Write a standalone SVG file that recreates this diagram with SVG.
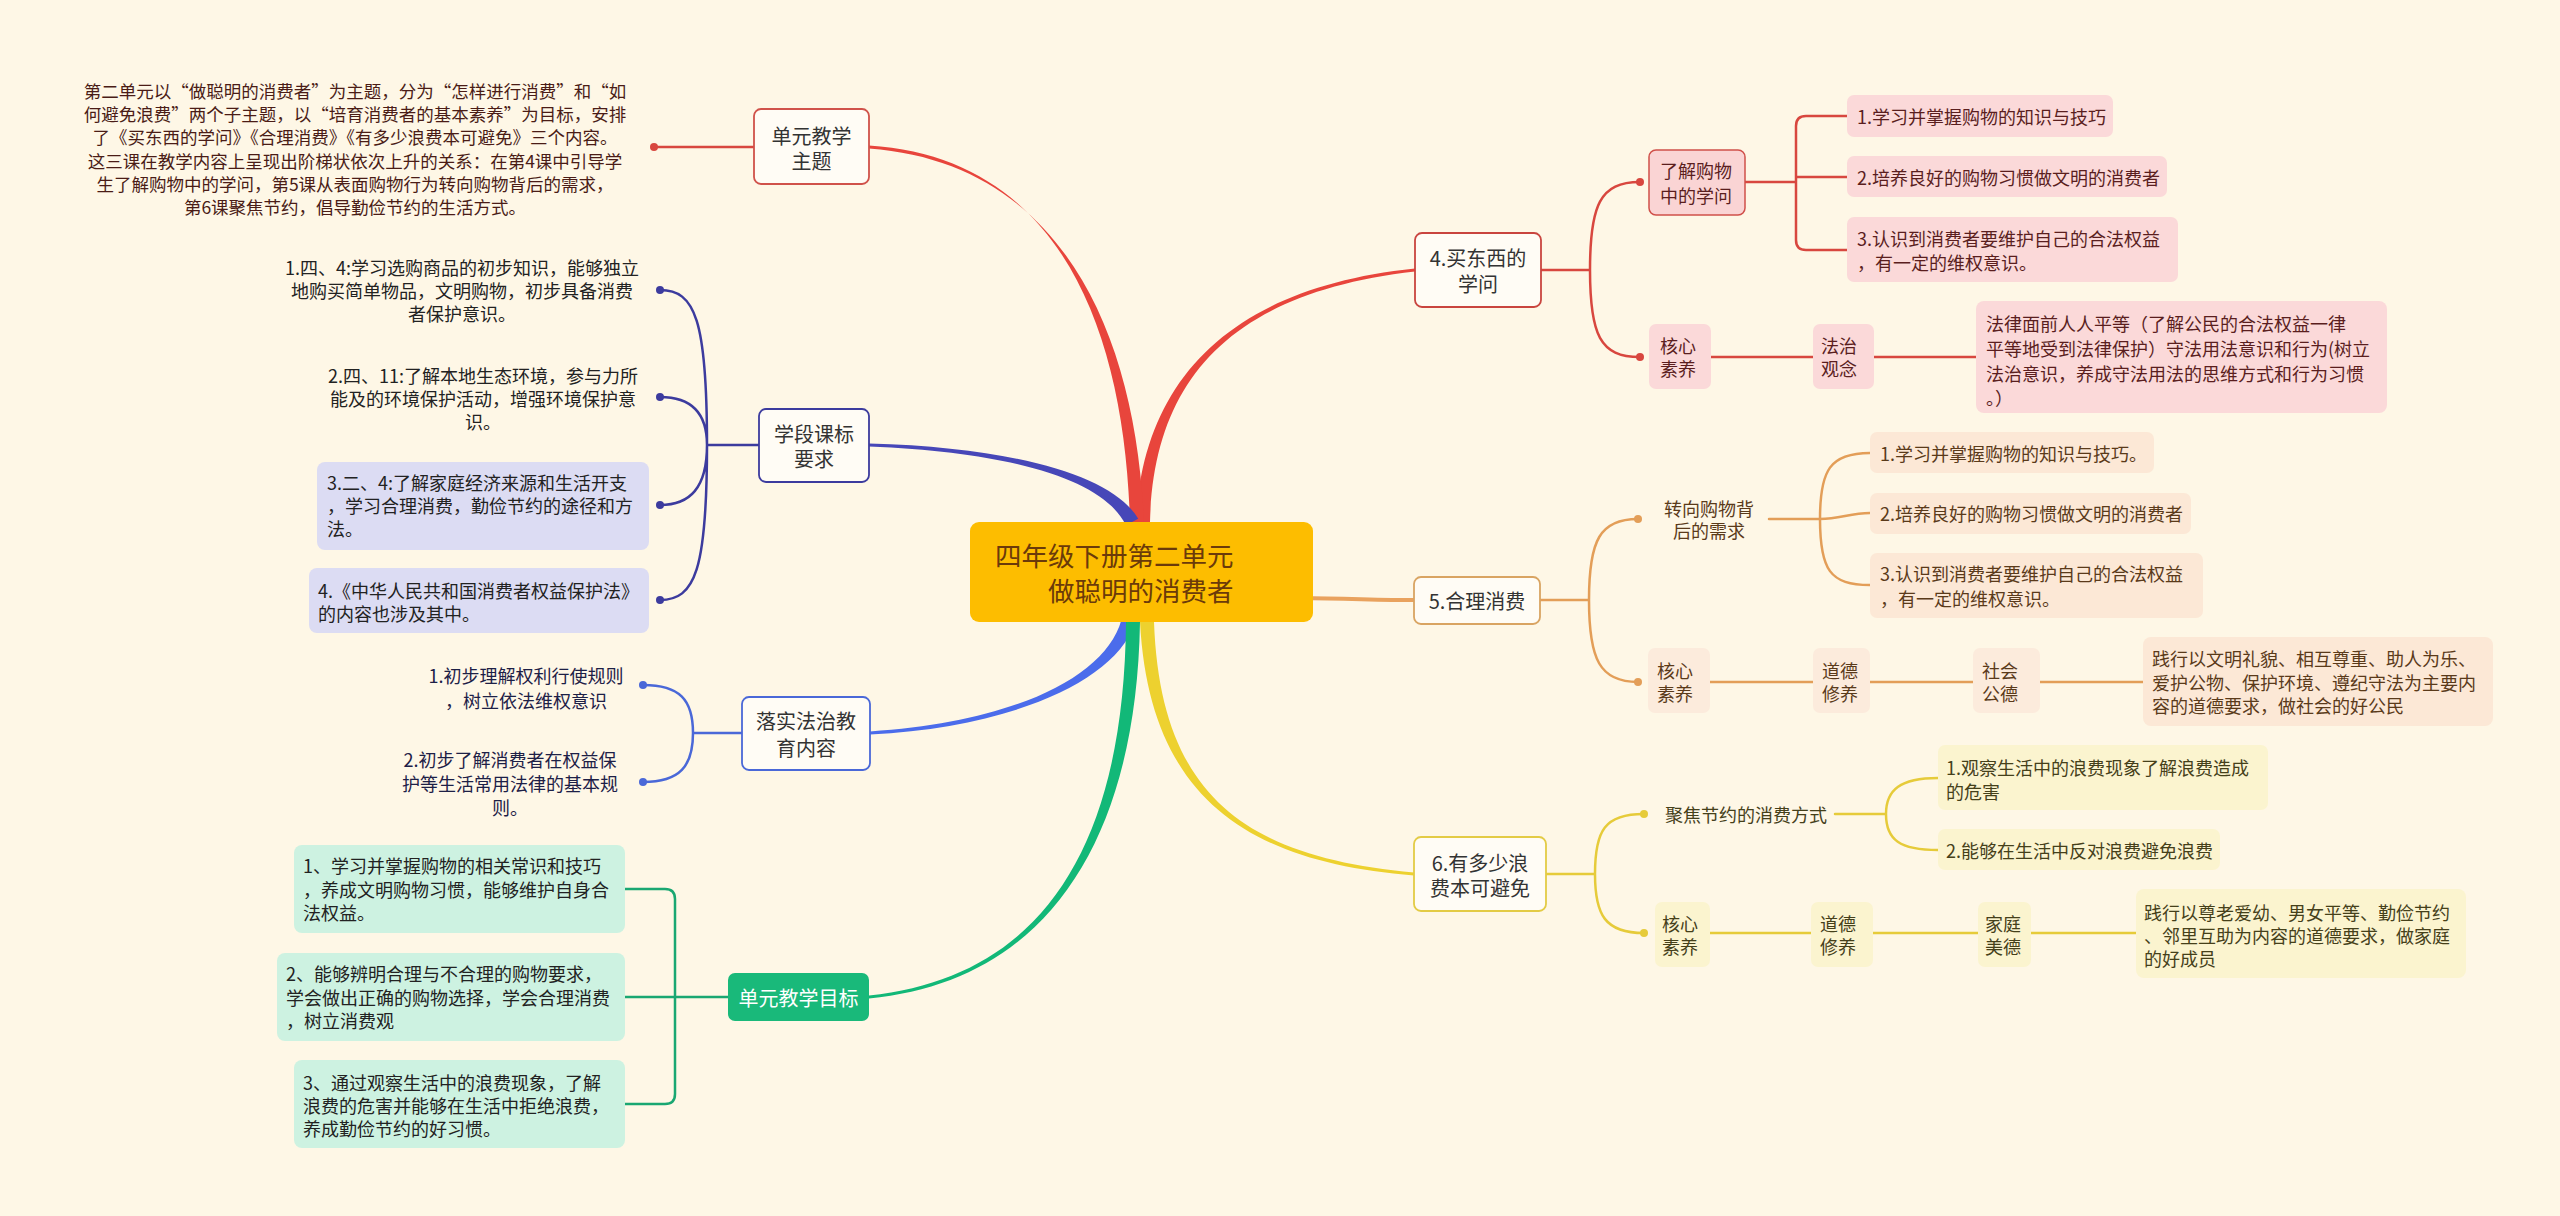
<svg xmlns="http://www.w3.org/2000/svg" width="2560" height="1216" viewBox="0 0 2560 1216">
<style>
text{font-family:"Noto Sans CJK SC","Noto Sans",sans-serif;dominant-baseline:central}
.t18{font-size:18px}
.t175{font-size:17.5px}
.main{font-size:20px;fill:#333;text-anchor:middle}
.mid{text-anchor:middle}
.ln{fill:none;stroke-width:2.5;stroke-linecap:round;stroke-linejoin:round}
.red{stroke:#D8473F}.redf{fill:#D8473F}
.org{stroke:#E39E58}.orgf{fill:#E39E58}
.yel{stroke:#E6CB3A}.yelf{fill:#E6CB3A}
.nav{stroke:#3C3B9E}.navf{fill:#3C3B9E}
.blu{stroke:#4A68D8}.bluf{fill:#4A68D8}
.grn{stroke:#1AA772}
.tr{fill:#5a1e1e}.to{fill:#5a3a1a}.ty{fill:#45401a}.tn{fill:#222}.tb{fill:#1d2046}.tg{fill:#222}
</style>
<rect x="0" y="0" width="2560" height="1216" fill="#FEF7E6"/>

<g id="connectors">
  <!-- main tapered branches -->
  <path d="M 1136 522 C 1142.5 380, 1230 287.5, 1415 268.5 L 1415 271.5 C 1230 292.5, 1153.5 380, 1150 522 Z" fill="#E8453C"/>
  <path d="M 1130 522 C 1124.5 330, 1060 157.5, 869 145.5 L 869 148.5 C 1060 162.5, 1135.5 330, 1144 522 Z" fill="#E8453C"/>
  <path d="M 1138.2 518.8 C 1114.5 477.5, 1020 447.5, 869 443.5 L 869 446.5 C 1020 452.5, 1105.5 482.5, 1125.8 525.2 Z" fill="#4747B8"/>
  <path d="M 1121.4 619.9 C 1105 678.4, 1010 722.5, 870 731.5 L 870 734.5 C 1010 727.5, 1115 681.6, 1134.6 624.1 Z" fill="#4B6CEB"/>
  <path d="M 1126 622 C 1124 850, 1040 977.5, 869 995.5 L 869 998.5 C 1040 982.5, 1136 850, 1140 622 Z" fill="#12B878"/>
  <path d="M 1140 622 C 1149.5 800, 1250 862.5, 1414 875.5 L 1414 872.5 C 1250 857.5, 1160.5 800, 1154 622 Z" fill="#EDD12F"/>
  <path d="M 1300 598 C 1350 598.5, 1380 600, 1414 600" fill="none" stroke="#E9A25E" stroke-width="4"/>

  <!-- red: 单元教学主题 -->
  <path class="ln red" d="M 754 147 H 654"/>
  <circle cx="654" cy="147" r="4" class="redf"/>
  <!-- red: 4. subtree -->
  <path class="ln red" d="M 1541 270 H 1590 M 1590 270 C 1590 205, 1600 182, 1640 182 M 1590 270 C 1590 335, 1600 357, 1640 357"/>
  <circle cx="1640" cy="182" r="4" class="redf"/>
  <circle cx="1640" cy="357" r="4" class="redf"/>
  <path class="ln red" d="M 1745 182 H 1796 M 1847 116 H 1806 Q 1796 116 1796 126 V 240 Q 1796 250 1806 250 H 1847 M 1796 177 H 1847"/>
  <path class="ln red" d="M 1711 357 H 1813 M 1874 357 H 1976"/>

  <!-- orange: 5. subtree -->
  <path class="ln org" d="M 1540 600 H 1589 M 1589 600 C 1589 540, 1600 519, 1638 519 M 1589 600 C 1589 660, 1600 682, 1638 682"/>
  <circle cx="1638" cy="519" r="4" class="orgf"/>
  <circle cx="1638" cy="682" r="4" class="orgf"/>
  <path class="ln org" d="M 1769 519 H 1820 M 1820 519 C 1820 470, 1830 453, 1870 453 M 1820 519 C 1840 519, 1850 513, 1870 513 M 1820 519 C 1820 570, 1830 585, 1870 585"/>
  <path class="ln org" d="M 1710 682 H 1813 M 1870 682 H 1973 M 2040 682 H 2143"/>

  <!-- yellow: 6. subtree -->
  <path class="ln yel" d="M 1546 874 H 1595 M 1595 874 C 1595 830, 1605 814, 1644 814 M 1595 874 C 1595 915, 1605 933, 1644 933"/>
  <circle cx="1644" cy="814" r="4" class="yelf"/>
  <circle cx="1644" cy="933" r="4" class="yelf"/>
  <path class="ln yel" d="M 1835 814 H 1886 M 1886 814 C 1886 790, 1900 778, 1938 778 M 1886 814 C 1886 840, 1900 850, 1938 850"/>
  <path class="ln yel" d="M 1710 933 H 1811 M 1873 933 H 1978 M 2031 933 H 2136"/>

  <!-- navy: 学段课标要求 -->
  <path class="ln nav" d="M 759 445 H 707 M 707 445 C 707 320, 695 290, 660 290 M 707 445 C 707 412, 690 397, 660 397 M 707 445 C 707 488, 690 505, 660 505 M 707 445 C 707 570, 695 600, 660 600"/>
  <circle cx="660" cy="290" r="4" class="navf"/>
  <circle cx="660" cy="397" r="4" class="navf"/>
  <circle cx="660" cy="505" r="4" class="navf"/>
  <circle cx="660" cy="600" r="4" class="navf"/>

  <!-- blue: 落实法治教育内容 -->
  <path class="ln blu" d="M 742 733 H 693 M 693 733 C 693 700, 680 685, 643 685 M 693 733 C 693 766, 680 782, 643 782"/>
  <circle cx="643" cy="685" r="4" class="bluf"/>
  <circle cx="643" cy="782" r="4" class="bluf"/>

  <!-- green: 单元教学目标 -->
  <path class="ln grn" d="M 728 997 H 675 M 625 889 H 665 Q 675 889 675 899 V 1094 Q 675 1104 665 1104 H 625 M 675 997 H 625"/>
</g>

<g id="center">
  <rect x="970" y="522" width="343" height="100" rx="9" fill="#FDBD00"/>
  <text x="995" y="554" style="font-size:26.5px" fill="#6B3A0A">四年级下册第二单元</text>
  <text x="1048" y="589" style="font-size:26.5px" fill="#6B3A0A">做聪明的消费者</text>
</g>

<!-- left: 单元教学主题 -->
<g id="n-zhuti">
  <rect x="754" y="109" width="115" height="75" rx="7" fill="#FFFCF5" stroke="#D0524A" stroke-width="1.8"/>
  <text class="main" x="811.5" y="135">单元教学</text>
  <text class="main" x="811.5" y="160">主题</text>
</g>
<g id="n-zhuti-text" class="t175 mid" fill="#4a1c16">
  <text x="355" y="90">第二单元以“做聪明的消费者”为主题，分为“怎样进行消费”和“如</text>
  <text x="355" y="113.3">何避免浪费”两个子主题，以“培育消费者的基本素养”为目标，安排</text>
  <text x="355" y="136.6">了《买东西的学问》《合理消费》《有多少浪费本可避免》三个内容。</text>
  <text x="355" y="160">这三课在教学内容上呈现出阶梯状依次上升的关系：在第4课中引导学</text>
  <text x="355" y="183.3">生了解购物中的学问，第5课从表面购物行为转向购物背后的需求，</text>
  <text x="355" y="206.6">第6课聚焦节约，倡导勤俭节约的生活方式。</text>
</g>

<!-- left: 学段课标要求 -->
<g id="n-xueduan">
  <rect x="759" y="409" width="110" height="73" rx="7" fill="#FFFCF5" stroke="#3C3B9E" stroke-width="1.8"/>
  <text class="main" x="814" y="433">学段课标</text>
  <text class="main" x="814" y="458">要求</text>
</g>
<g id="n-xd1" class="t18 mid tn">
  <text x="462" y="267">1.四、4:学习选购商品的初步知识，能够独立</text>
  <text x="462" y="290">地购买简单物品，文明购物，初步具备消费</text>
  <text x="462" y="313">者保护意识。</text>
</g>
<g id="n-xd2" class="t18 mid tn">
  <text x="483" y="375">2.四、11:了解本地生态环境，参与力所</text>
  <text x="483" y="398">能及的环境保护活动，增强环境保护意</text>
  <text x="483" y="421">识。</text>
</g>
<g id="n-xd3" class="t18 tn">
  <rect x="317" y="462" width="332" height="88" rx="8" fill="#DCDCF3"/>
  <text x="327" y="482">3.二、4:了解家庭经济来源和生活开支</text>
  <text x="327" y="505">，学习合理消费，勤俭节约的途径和方</text>
  <text x="327" y="528">法。</text>
</g>
<g id="n-xd4" class="t18 tn">
  <rect x="309" y="568" width="340" height="65" rx="8" fill="#DCDCF3"/>
  <text x="318" y="590">4.《中华人民共和国消费者权益保护法》</text>
  <text x="318" y="613">的内容也涉及其中。</text>
</g>

<!-- left: 落实法治教育内容 -->
<g id="n-fazhi">
  <rect x="742" y="697" width="128" height="73" rx="7" fill="#FFFCF5" stroke="#4A68D8" stroke-width="1.8"/>
  <text class="main" x="806" y="720">落实法治教</text>
  <text class="main" x="806" y="747">育内容</text>
</g>
<g id="n-fz1" class="t18 mid tb">
  <text x="526" y="675">1.初步理解权利行使规则</text>
  <text x="526" y="700">，树立依法维权意识</text>
</g>
<g id="n-fz2" class="t18 mid tb">
  <text x="510" y="759">2.初步了解消费者在权益保</text>
  <text x="510" y="783">护等生活常用法律的基本规</text>
  <text x="510" y="807">则。</text>
</g>

<!-- left: 单元教学目标 -->
<g id="n-mubiao">
  <rect x="728" y="973" width="141" height="48" rx="7" fill="#19B97A"/>
  <text x="798.5" y="997" style="font-size:20px" fill="#ffffff" text-anchor="middle">单元教学目标</text>
</g>
<g id="n-mb1" class="t18 tg">
  <rect x="294" y="845" width="331" height="88" rx="8" fill="#CDF2E1"/>
  <text x="303" y="865">1、学习并掌握购物的相关常识和技巧</text>
  <text x="303" y="889">，养成文明购物习惯，能够维护自身合</text>
  <text x="303" y="912">法权益。</text>
</g>
<g id="n-mb2" class="t18 tg">
  <rect x="277" y="953" width="348" height="88" rx="8" fill="#CDF2E1"/>
  <text x="286" y="973">2、能够辨明合理与不合理的购物要求，</text>
  <text x="286" y="997">学会做出正确的购物选择，学会合理消费</text>
  <text x="286" y="1020">，树立消费观</text>
</g>
<g id="n-mb3" class="t18 tg">
  <rect x="294" y="1060" width="331" height="88" rx="8" fill="#CDF2E1"/>
  <text x="303" y="1082">3、通过观察生活中的浪费现象，了解</text>
  <text x="303" y="1105">浪费的危害并能够在生活中拒绝浪费，</text>
  <text x="303" y="1128">养成勤俭节约的好习惯。</text>
</g>

<!-- right: 4. -->
<g id="n-4">
  <rect x="1415" y="233" width="126" height="74" rx="7" fill="#FFFCF5" stroke="#C9453F" stroke-width="1.8"/>
  <text class="main" x="1478" y="257">4.买东西的</text>
  <text class="main" x="1478" y="283">学问</text>
</g>
<g id="n-4a" class="t18 tr">
  <rect x="1649" y="150" width="96" height="65" rx="7" fill="#FAD4D4" stroke="#D0504A" stroke-width="1.5"/>
  <text x="1660" y="170">了解购物</text>
  <text x="1660" y="195">中的学问</text>
</g>
<g id="n-4a1" class="t18 tr">
  <rect x="1847" y="95" width="266" height="42" rx="7" fill="#FBD9D9"/>
  <text x="1857" y="116">1.学习并掌握购物的知识与技巧</text>
</g>
<g id="n-4a2" class="t18 tr">
  <rect x="1847" y="156" width="320" height="41" rx="7" fill="#FBD9D9"/>
  <text x="1857" y="177">2.培养良好的购物习惯做文明的消费者</text>
</g>
<g id="n-4a3" class="t18 tr">
  <rect x="1847" y="217" width="331" height="65" rx="7" fill="#FBD9D9"/>
  <text x="1857" y="238">3.认识到消费者要维护自己的合法权益</text>
  <text x="1857" y="262">，有一定的维权意识。</text>
</g>
<g id="n-4b" class="t18 tr">
  <rect x="1649" y="324" width="62" height="65" rx="7" fill="#FBD9D9"/>
  <text x="1660" y="345">核心</text>
  <text x="1660" y="368">素养</text>
</g>
<g id="n-4b1" class="t18 tr">
  <rect x="1813" y="324" width="61" height="65" rx="7" fill="#FBD9D9"/>
  <text x="1821" y="345">法治</text>
  <text x="1821" y="368">观念</text>
</g>
<g id="n-4b2" class="t18 tr">
  <rect x="1976" y="301" width="411" height="112" rx="8" fill="#FBD9D9"/>
  <text x="1986" y="323">法律面前人人平等（了解公民的合法权益一律</text>
  <text x="1986" y="348">平等地受到法律保护）守法用法意识和行为(树立</text>
  <text x="1986" y="373">法治意识，养成守法用法的思维方式和行为习惯</text>
  <text x="1986" y="397">。）</text>
</g>

<!-- right: 5. -->
<g id="n-5">
  <rect x="1414" y="577" width="126" height="47" rx="7" fill="#FFFCF5" stroke="#D9A462" stroke-width="1.8"/>
  <text class="main" x="1477" y="600">5.合理消费</text>
</g>
<g id="n-5a" class="t18 to mid">
  <text x="1709" y="508">转向购物背</text>
  <text x="1709" y="530">后的需求</text>
</g>
<g id="n-5a1" class="t18 to">
  <rect x="1870" y="432" width="284" height="41" rx="7" fill="#FCE8D6"/>
  <text x="1880" y="453">1.学习并掌握购物的知识与技巧。</text>
</g>
<g id="n-5a2" class="t18 to">
  <rect x="1870" y="493" width="321" height="41" rx="7" fill="#FCE8D6"/>
  <text x="1880" y="513">2.培养良好的购物习惯做文明的消费者</text>
</g>
<g id="n-5a3" class="t18 to">
  <rect x="1870" y="553" width="333" height="65" rx="7" fill="#FCE8D6"/>
  <text x="1880" y="573">3.认识到消费者要维护自己的合法权益</text>
  <text x="1880" y="598">，有一定的维权意识。</text>
</g>
<g id="n-5b" class="t18 to">
  <rect x="1648" y="648" width="62" height="65" rx="7" fill="#FCEBDC"/>
  <text x="1657" y="670">核心</text>
  <text x="1657" y="693">素养</text>
</g>
<g id="n-5b1" class="t18 to">
  <rect x="1813" y="648" width="57" height="65" rx="7" fill="#FCEBDC"/>
  <text x="1822" y="670">道德</text>
  <text x="1822" y="693">修养</text>
</g>
<g id="n-5b2" class="t18 to">
  <rect x="1973" y="648" width="67" height="65" rx="7" fill="#FCEBDC"/>
  <text x="1982" y="670">社会</text>
  <text x="1982" y="693">公德</text>
</g>
<g id="n-5b3" class="t18 to">
  <rect x="2143" y="637" width="350" height="89" rx="8" fill="#FCE8D6"/>
  <text x="2152" y="658">践行以文明礼貌、相互尊重、助人为乐、</text>
  <text x="2152" y="682">爱护公物、保护环境、遵纪守法为主要内</text>
  <text x="2152" y="705">容的道德要求，做社会的好公民</text>
</g>

<!-- right: 6. -->
<g id="n-6">
  <rect x="1414" y="837" width="132" height="74" rx="7" fill="#FFFCF5" stroke="#E3CB45" stroke-width="1.8"/>
  <text class="main" x="1480" y="862">6.有多少浪</text>
  <text class="main" x="1480" y="887">费本可避免</text>
</g>
<g id="n-6a" class="t18 ty">
  <text x="1665" y="814">聚焦节约的消费方式</text>
</g>
<g id="n-6a1" class="t18 ty">
  <rect x="1938" y="745" width="330" height="65" rx="7" fill="#FBF4CF"/>
  <text x="1946" y="767">1.观察生活中的浪费现象了解浪费造成</text>
  <text x="1946" y="791">的危害</text>
</g>
<g id="n-6a2" class="t18 ty">
  <rect x="1938" y="829" width="282" height="41" rx="7" fill="#FBF4CF"/>
  <text x="1946" y="850">2.能够在生活中反对浪费避免浪费</text>
</g>
<g id="n-6b" class="t18 ty">
  <rect x="1655" y="902" width="55" height="65" rx="7" fill="#FBF4CF"/>
  <text x="1662" y="923">核心</text>
  <text x="1662" y="946">素养</text>
</g>
<g id="n-6b1" class="t18 ty">
  <rect x="1811" y="902" width="62" height="65" rx="7" fill="#FBF4CF"/>
  <text x="1820" y="923">道德</text>
  <text x="1820" y="946">修养</text>
</g>
<g id="n-6b2" class="t18 ty">
  <rect x="1978" y="902" width="53" height="65" rx="7" fill="#FBF4CF"/>
  <text x="1985" y="923">家庭</text>
  <text x="1985" y="946">美德</text>
</g>
<g id="n-6b3" class="t18 ty">
  <rect x="2136" y="889" width="330" height="89" rx="8" fill="#FBF4CF"/>
  <text x="2144" y="912">践行以尊老爱幼、男女平等、勤俭节约</text>
  <text x="2144" y="935">、邻里互助为内容的道德要求，做家庭</text>
  <text x="2144" y="958">的好成员</text>
</g>
</svg>
